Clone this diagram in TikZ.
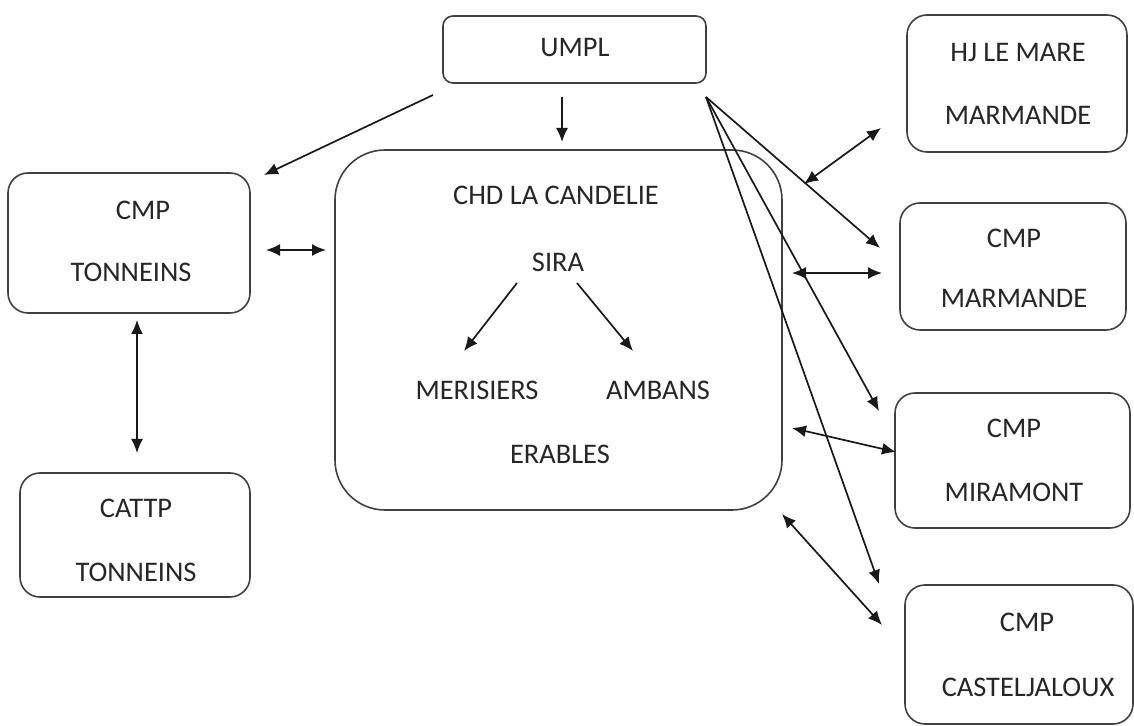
\documentclass[tikz,border=0pt]{standalone}
\usepackage{fontspec}
\setmainfont{Carlito}
\usetikzlibrary{arrows.meta}
\begin{document}
\begin{tikzpicture}[x=0.5pt,y=-0.5pt,
  box/.style={draw=black!75, line width=0.8pt, rounded corners=#1, inner sep=0pt},
  box/.default=5pt,
  lbl/.style={font=\fontsize{14.2}{17}\selectfont, text=black!85, inner sep=0pt},
  arr/.style={draw=black!90, line width=0.85pt, -{Latex[length=7pt,width=6pt]}},
  darr/.style={draw=black!90, line width=0.85pt, {Latex[length=7pt,width=6pt]}-{Latex[length=7pt,width=6pt]}}]
\useasboundingbox (0,0) rectangle (1134,726);
% boxes
\node[box=5pt, minimum width=131.5pt, minimum height=33.5pt] (umpl) at (574.5,49.5) {};
\node[box=25pt, minimum width=223.5pt, minimum height=180pt] (chd) at (558.5,330) {};
\node[box=10pt, minimum width=121pt, minimum height=70pt] (cmpt) at (129,243) {};
\node[box=10pt, minimum width=115pt, minimum height=62pt] (cattp) at (135,535) {};
\node[box=10pt, minimum width=110pt, minimum height=68.5pt] (hj) at (1017,83.5) {};
\node[box=10pt, minimum width=113pt, minimum height=63.5pt] (cmpm) at (1013,266.5) {};
\node[box=10pt, minimum width=117.5pt, minimum height=67.5pt] (cmpmi) at (1012.5,460.5) {};
\node[box=10pt, minimum width=114pt, minimum height=69.5pt] (cmpc) at (1019,654.5) {};
% texts
\node[lbl] (tumpl) at (575,48) {UMPL};
\node[lbl] (tchd) at (556,195) {CHD LA CANDELIE};
\node[lbl] (tsira) at (558,262) {SIRA};
\node[lbl] (tmer) at (477,390) {MERISIERS};
\node[lbl] (tamb) at (658,390) {AMBANS};
\node[lbl] (terab) at (560,454) {ERABLES};
\node[lbl] (tcmpt1) at (143,210) {CMP};
\node[lbl] (tcmpt2) at (131,272) {TONNEINS};
\node[lbl] (tcat1) at (136,508) {CATTP};
\node[lbl] (tcat2) at (136,572) {TONNEINS};
\node[lbl] (thj1) at (1018,52) {HJ LE MARE};
\node[lbl] (thj2) at (1018,115) {MARMANDE};
\node[lbl] (tcm1) at (1014,238) {CMP};
\node[lbl] (tcm2) at (1014,298) {MARMANDE};
\node[lbl] (tcmi1) at (1014,428) {CMP};
\node[lbl] (tcmi2) at (1014,492) {MIRAMONT};
\node[lbl] (tcc1) at (1027,622) {CMP};
\node[lbl] (tcc2) at (1028,687) {CASTELJALOUX};
% connector end points
\coordinate (ua) at (562,97);   \coordinate (ub) at (562,142);
\coordinate (ul) at (433,95);   \coordinate (tl) at (264,175);
\coordinate (ur) at (706,97);
\coordinate (mA) at (880,248);
\coordinate (miA) at (879,411);
\coordinate (cA) at (879,584);
\coordinate (tcL) at (266,250); \coordinate (tcR) at (326,250);
\coordinate (tvT) at (137,320); \coordinate (tvB) at (137,453);
\coordinate (s1) at (517,283);  \coordinate (s1e) at (464,351);
\coordinate (s2) at (577,283);  \coordinate (s2e) at (633,351);
\coordinate (hjA) at (804,184); \coordinate (hjB) at (881,128);
\coordinate (mmA) at (792,273); \coordinate (mmB) at (882,273);
\coordinate (miB) at (792,428); \coordinate (miC) at (896,452);
\coordinate (ccA) at (782,514); \coordinate (ccB) at (882,625);
% connectors
\draw[arr] (ua) -- (ub);
\draw[arr] (ul) -- (tl);
\draw[arr] (ur) -- (mA);
\draw[arr] (ur) -- (miA);
\draw[arr] (ur) -- (cA);
\draw[darr] (tcL) -- (tcR);
\draw[darr] (tvT) -- (tvB);
\draw[arr] (s1) -- (s1e);
\draw[arr] (s2) -- (s2e);
\draw[darr] (hjA) -- (hjB);
\draw[darr] (mmA) -- (mmB);
\draw[darr] (miB) -- (miC);
\draw[darr] (ccA) -- (ccB);
\end{tikzpicture}
\end{document}
